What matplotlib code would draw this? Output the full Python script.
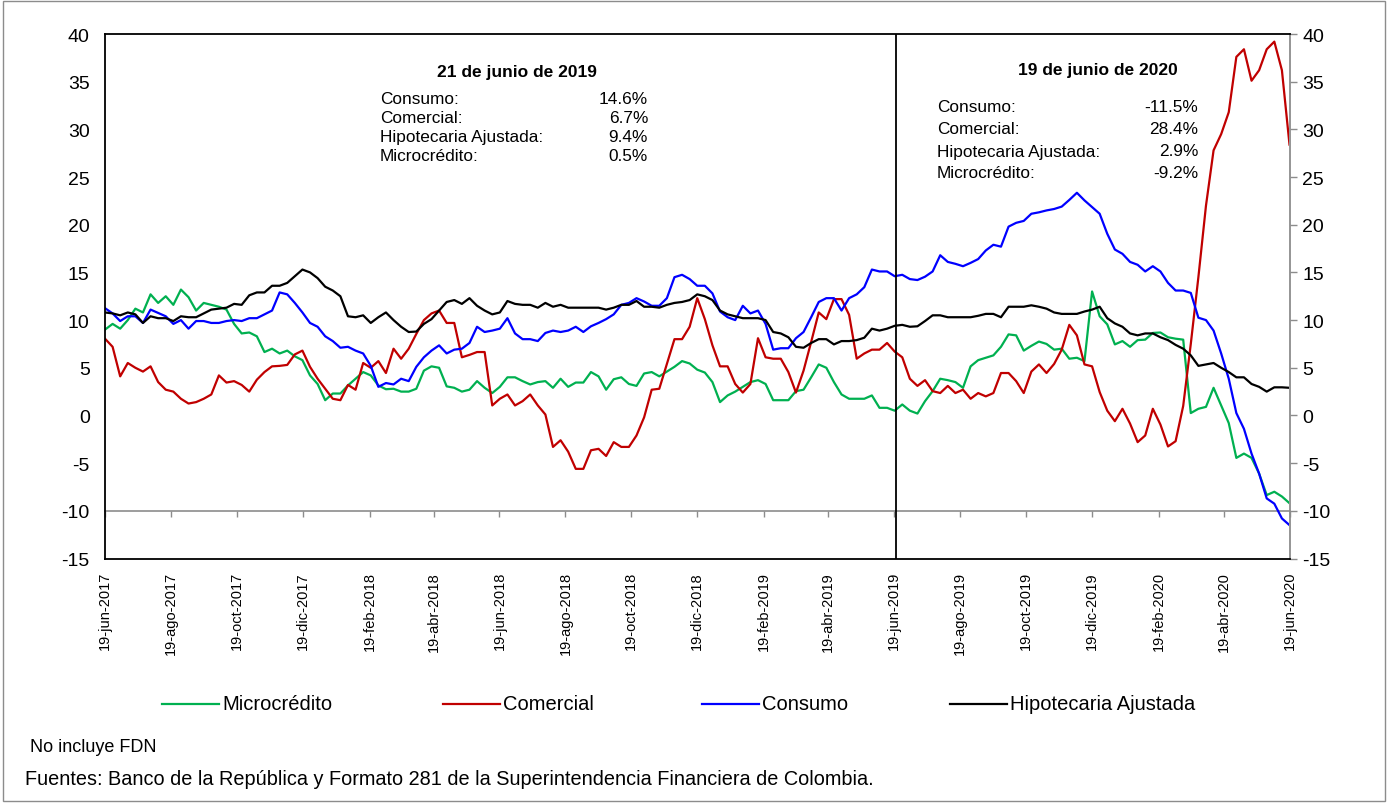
import matplotlib.pyplot as plt
import matplotlib.dates as mdates
from matplotlib.lines import Line2D
from matplotlib.patches import Rectangle
import pandas as pd

plt.rcParams['font.family'] = ['Liberation Sans', 'DejaVu Sans']
plt.rcParams['axes.unicode_minus'] = False

# weekly observations, 19-jun-2017 .. 19-jun-2020
fechas = pd.date_range('2017-06-19', '2020-06-19', periods=157)

hipotecaria = [
    10.8, 10.7, 10.5, 10.8, 10.6, 9.7, 10.4, 10.2, 10.2, 9.9, 10.4, 10.3, 10.3, 10.7, 11.1, 11.2,
    11.3, 11.7, 11.6, 12.6, 12.9, 12.9, 13.6, 13.6, 13.9, 14.6, 15.3, 15.0, 14.4, 13.5, 13.1, 12.5,
    10.4, 10.3, 10.5, 9.7,
    10.3, 10.8, 10.0, 9.3, 8.75, 8.8, 9.6, 10.1, 11.0, 11.9, 12.1, 11.7, 12.3, 11.5, 11.0, 10.6,
    10.8, 12.0, 11.7, 11.6, 11.6, 11.3, 11.8, 11.4, 11.6, 11.3, 11.3, 11.3, 11.3, 11.3, 11.1, 11.3,
    11.6, 11.6, 12.0, 11.4, 11.4, 11.3, 11.6, 11.8,
    11.9, 12.1, 12.7, 12.5, 12.1, 11.0, 10.6, 10.4, 10.2, 10.2, 10.2, 10.0, 8.75, 8.6, 8.2, 7.2,
    7.1, 7.6, 8.0, 8.0, 7.45, 7.8, 7.8, 7.9, 8.15, 9.1, 8.9, 9.1, 9.4, 9.5, 9.3, 9.35,
    9.9, 10.5, 10.5, 10.3, 10.3, 10.3, 10.3, 10.45, 10.65, 10.65, 10.3, 11.4, 11.4, 11.4, 11.55,
    11.4, 11.2, 10.8, 10.65, 10.65, 10.65, 10.9, 11.1,
    11.4, 10.2, 9.65, 9.3, 8.6, 8.4, 8.6, 8.6, 8.2, 7.9, 7.4, 7.0, 6.3, 5.2, 5.35, 5.5, 5.0, 4.55,
    4.0, 4.0, 3.3, 3.0, 2.5, 2.95, 2.95, 2.9]

microcredito = [
    9.0, 9.6, 9.1, 10.0, 11.2, 10.8, 12.7, 11.8, 12.5, 11.6, 13.2, 12.4, 11.0, 11.8, 11.6, 11.4,
    11.1, 9.6, 8.6, 8.7, 8.3, 6.65, 7.0, 6.5, 6.8, 6.2, 5.8, 4.2, 3.3, 1.6, 2.3, 2.3, 3.15, 3.85,
    4.55, 4.2,
    3.15, 2.75, 2.8, 2.5, 2.5, 2.8, 4.7, 5.15, 5.0, 3.05, 2.9, 2.5, 2.7, 3.6, 2.9, 2.35, 3.0, 4.0,
    4.0, 3.6, 3.25, 3.5, 3.6, 2.9, 3.85, 3.0, 3.45, 3.45, 4.55, 4.1, 2.7, 3.8, 4.0, 3.3, 3.1, 4.4,
    4.55,
    4.1, 4.6, 5.1, 5.7, 5.45, 4.8, 4.5, 3.5, 1.4, 2.1, 2.5, 3.0, 3.5, 3.7, 3.3, 1.6, 1.6, 1.6,
    2.55, 2.7, 4.0, 5.35, 5.0, 3.5, 2.2, 1.75, 1.75, 1.75, 2.1, 0.8, 0.8, 0.5, 1.15, 0.5, 0.2,
    1.5, 2.55, 3.85, 3.7, 3.5, 2.9, 5.15, 5.8, 6.05, 6.3, 7.2, 8.5, 8.4, 6.8, 7.3, 7.75, 7.5, 6.9,
    7.0, 5.95, 6.05, 5.7, 13.0, 10.4, 9.55, 7.45, 7.8, 7.2, 7.9,
    7.95, 8.65, 8.7, 8.2, 8.05, 7.95, 0.25, 0.7, 0.9, 2.9, 1.05, -0.8, -4.45, -4.0, -4.45, -6.1,
    -8.35, -8.0, -8.5, -9.2]

comercial = [
    8.05, 7.2, 4.1, 5.5, 5.0, 4.6, 5.15, 3.5, 2.7, 2.5, 1.75, 1.25, 1.4, 1.75, 2.2, 4.2, 3.45,
    3.6, 3.2, 2.5, 3.75, 4.55, 5.15, 5.2, 5.3, 6.4, 6.8, 5.1, 3.85, 2.8, 1.75, 1.6, 3.2, 2.7, 5.5,
    5.0,
    5.7, 4.45, 7.0, 5.95, 7.0, 8.55, 10.0, 10.7, 11.0, 9.7, 9.7, 6.1, 6.35, 6.65, 6.65, 1.05, 1.75,
    2.2, 1.05, 1.5, 2.2, 1.05, 0.1, -3.3, -2.6, -3.8, -5.6, -5.6, -3.65, -3.5, -4.25, -2.8, -3.3,
    -3.3, -2.1, -0.2, 2.7,
    2.8, 5.4, 8.0, 8.0, 9.3, 12.3, 10.1, 7.35, 5.15, 5.15, 3.3, 2.4, 3.3, 8.1, 6.1, 5.95, 5.95,
    4.55, 2.4, 4.7, 7.7, 10.8, 10.1, 12.2, 12.2, 10.55, 5.95, 6.5, 6.9, 6.9, 7.6, 6.7, 6.1, 3.85,
    3.1,
    3.7, 2.55, 2.35, 3.1, 2.35, 2.7, 1.75, 2.35, 2.0, 2.35, 4.45, 4.45, 3.6, 2.35, 4.6, 5.35, 4.45,
    5.4, 6.9, 9.5, 8.4, 5.35, 5.15, 2.45, 0.5, -0.6, 0.7, -0.85, -2.8,
    -2.1, 0.7, -0.95, -3.25, -2.7, 1.0, 7.5, 14.5, 22.0, 27.8, 29.5, 31.8, 37.6, 38.4, 35.1, 36.2,
    38.4, 39.2, 36.2, 28.4]

consumo = [
    11.25, 10.7, 9.9, 10.4, 10.4, 9.7, 11.1, 10.75, 10.4, 9.6, 10.0, 9.1, 9.9, 9.9, 9.7, 9.7, 9.9,
    10.0, 9.9, 10.2, 10.2, 10.6, 11.0, 12.9, 12.7, 11.8, 10.8, 9.7, 9.3, 8.3, 7.8, 7.1, 7.2, 6.8,
    6.5, 5.2,
    3.0, 3.4, 3.25, 3.85, 3.6, 5.1, 6.1, 6.8, 7.35, 6.5, 6.9, 7.0, 7.6, 9.3, 8.75, 8.9, 9.1, 10.2,
    8.6, 8.0, 8.0, 7.8, 8.65, 8.9, 8.75, 8.9, 9.3, 8.75, 9.35, 9.7, 10.1, 10.6, 11.6, 11.8, 12.3,
    11.95, 11.5,
    11.5, 12.3, 14.5, 14.75, 14.3, 13.6, 13.6, 12.8, 10.9, 10.3, 10.0, 11.5, 10.7, 11.0, 9.6, 6.9,
    7.05, 7.05, 8.1, 8.75, 10.3, 11.9, 12.3, 12.3, 11.0, 12.3, 12.7, 13.45, 15.3, 15.1, 15.1, 14.6,
    14.75, 14.3, 14.2,
    14.55, 15.1, 16.8, 16.1, 15.9, 15.65, 16.0, 16.4, 17.3, 17.9, 17.7, 19.8, 20.2, 20.4, 21.15,
    21.3, 21.5, 21.65, 21.9, 22.6, 23.35, 22.55, 21.85, 21.15, 19.05, 17.4, 16.95, 16.1, 15.8,
    15.1, 15.65, 15.1, 13.9, 13.1, 13.1, 12.85, 10.25, 10.0, 8.9, 6.5, 3.85, 0.25, -1.4, -4.0,
    -6.1, -8.7, -9.25, -10.8, -11.5]

series_nombres = ['Microcrédito', 'Comercial', 'Consumo', 'Hipotecaria Ajustada']
series_colores = ['#00B050', '#C00000', '#0000FF', '#000000']

tick_fechas = pd.to_datetime(['2017-06-19', '2017-08-19', '2017-10-19', '2017-12-19', '2018-02-19',
                              '2018-04-19', '2018-06-19', '2018-08-19', '2018-10-19', '2018-12-19',
                              '2019-02-19', '2019-04-19', '2019-06-19', '2019-08-19', '2019-10-19',
                              '2019-12-19', '2020-02-19', '2020-04-19', '2020-06-19'])
tick_labels = ['19-jun-2017', '19-ago-2017', '19-oct-2017', '19-dic-2017', '19-feb-2018',
               '19-abr-2018', '19-jun-2018', '19-ago-2018', '19-oct-2018', '19-dic-2018',
               '19-feb-2019', '19-abr-2019', '19-jun-2019', '19-ago-2019', '19-oct-2019',
               '19-dic-2019', '19-feb-2020', '19-abr-2020', '19-jun-2020']

fecha_corte = pd.Timestamp('2019-06-21')
caja_categorias = ['Consumo:', 'Comercial:', 'Hipotecaria Ajustada:', 'Microcrédito:']
valores_2019 = [14.6, 6.7, 9.4, 0.5]
valores_2020 = [-11.5, 28.4, 2.9, -9.2]

W, H = 1388, 804
fig = plt.figure(figsize=(W / 100, H / 100), dpi=100)
ax = fig.add_axes([105 / W, 1 - 559.5 / H, (1289.5 - 105) / W, (559.5 - 35) / H])

datos = [microcredito, comercial, consumo, hipotecaria]
for vals, col in zip(datos, series_colores):
    ax.plot(fechas, vals, color=col, lw=1.6)

ax.axvline(fecha_corte, color='black', lw=1.3)

ax.set_xlim(pd.Timestamp('2017-06-19'), pd.Timestamp('2020-06-19'))
ax.set_ylim(-15, 40)
ax.set_yticks(range(-15, 41, 5))
ax.tick_params(axis='y', length=0, pad=11, labelsize=14)
ax.set_xticks(tick_fechas)
ax.set_xticklabels(tick_labels, rotation=90, fontsize=10.5)
ax.tick_params(axis='x', length=0, pad=9)

for s in ['left', 'top', 'bottom']:
    ax.spines[s].set_color('black')
    ax.spines[s].set_linewidth(1.3)
ax.spines['right'].set_visible(False)

# right hand axis (gray, outward ticks)
sec = ax.secondary_yaxis('right')
sec.set_yticks(range(-15, 41, 5))
sec.spines['right'].set_color('#8c8c8c')
sec.spines['right'].set_linewidth(1.3)
sec.tick_params(axis='y', direction='out', length=5, width=1, color='#8c8c8c', pad=4, labelsize=14)

# category axis crossing at -10
secx = ax.secondary_xaxis(5 / 55)
secx.set_xticks(mdates.date2num(tick_fechas))
secx.tick_params(axis='x', direction='out', length=4, width=1, color='#8c8c8c', labelbottom=False, labeltop=False)
for s in secx.spines.values():
    s.set_color('#8c8c8c')
    s.set_linewidth(1.2)

# annotation boxes
fig.text(517 / W, 1 - 72 / H, '21 de junio de 2019', ha='center', va='center', fontsize=12.5, fontweight='bold')
for k, (cat, v) in enumerate(zip(caja_categorias, valores_2019)):
    y = 1 - (100 + 18.7 * k) / H
    fig.text(380 / W, y, cat, ha='left', va='center', fontsize=12.4)
    fig.text(648 / W, y, f'{v:.1f}%', ha='right', va='center', fontsize=12.4)

fig.text(1098 / W, 1 - 70 / H, '19 de junio de 2020', ha='center', va='center', fontsize=12.5, fontweight='bold')
for k, (cat, v) in enumerate(zip(caja_categorias, valores_2020)):
    y = 1 - (108 + 22 * k) / H
    fig.text(937 / W, y, cat, ha='left', va='center', fontsize=12.4)
    fig.text(1198 / W, y, f'{v:.1f}%', ha='right', va='center', fontsize=12.4)

# legend
leg_x = [222, 503, 762, 1010]
for nombre, col, x0 in zip(series_nombres, series_colores, leg_x):
    y = 1 - 705 / H
    fig.add_artist(Line2D([(x0 - 60) / W, (x0 - 3) / W], [y, y], color=col, lw=1.6, transform=fig.transFigure))
    fig.text(x0 / W, y, nombre, ha='left', va='center', fontsize=14.5)

fig.text(30 / W, 1 - 748 / H, 'No incluye FDN', ha='left', va='center', fontsize=13)
fig.text(25 / W, 1 - 780 / H,
         'Fuentes: Banco de la República y Formato 281 de la Superintendencia Financiera de Colombia.',
         ha='left', va='center', fontsize=14.3)

fig.add_artist(Rectangle((0.002, 0.002), 0.996, 0.996, transform=fig.transFigure,
                         fill=False, edgecolor='#8c8c8c', lw=1))

fig.savefig('out.png', dpi=100)
